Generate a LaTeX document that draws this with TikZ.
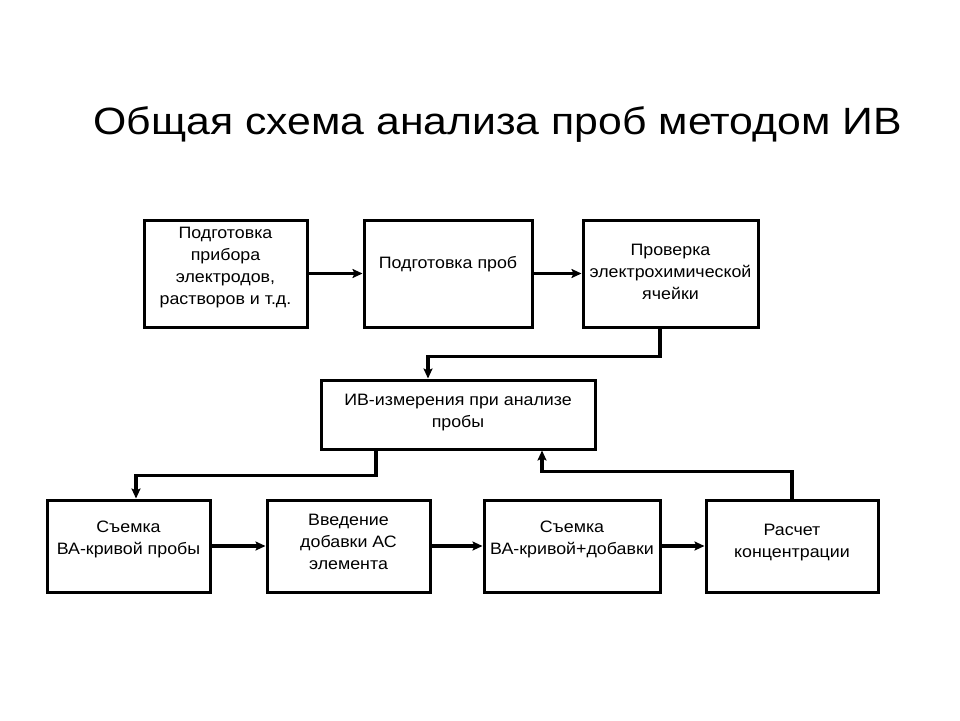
\documentclass[tikz,border=0pt]{standalone}
\usepackage{fontspec}
\usepackage{graphicx}
\setmainfont{Liberation Sans}
\usetikzlibrary{arrows.meta}
\newcommand{\bxt}[1]{\scalebox{1.08}[1]{\begin{tabular}{@{}c@{}}#1\end{tabular}}}
\begin{document}
\begin{tikzpicture}[x=1pt,y=-1pt,
  box/.style={draw=black,line width=3pt,fill=white,inner sep=0pt},
  txt/.style={font=\fontsize{16.5}{22}\selectfont,inner sep=0pt},
  arr/.style={line width=3.2pt,-{Stealth[length=10pt,width=9pt,inset=2pt]}},
  conn/.style={line width=3.2pt}]
\useasboundingbox (0,0) rectangle (960,720);
\fill[white] (0,0) rectangle (960,720);
% title
\node[anchor=base,inner sep=0pt,font=\fontsize{38}{44}\selectfont] (title) at (497.5,134) {\scalebox{1.125}[1]{Общая схема анализа проб методом ИВ}};
% top row
\node[box,minimum width=163pt,minimum height=107pt] (b1) at (225.5,273.5) {};
\node[box,minimum width=168pt,minimum height=107pt] (b2) at (448,273.5) {};
\node[box,minimum width=175pt,minimum height=107pt] (b3) at (670.5,273.5) {};
\node[txt] (t1) at (225.5,267) {\bxt{Подготовка\\прибора\\электродов,\\растворов и т.д.}};
\node[txt] (t2) at (448,264) {\bxt{Подготовка проб}};
\node[txt] (t3) at (670.5,273) {\bxt{Проверка\\электрохимической\\ячейки}};
% middle
\node[box,minimum width=274pt,minimum height=69pt] (mid) at (458,414.5) {};
\node[txt] (tm) at (458,412) {\bxt{ИВ-измерения при анализе\\пробы}};
% bottom row
\node[box,minimum width=163pt,minimum height=92pt] (ba) at (128.5,546) {};
\node[box,minimum width=163pt,minimum height=92pt] (bb) at (348.5,546) {};
\node[box,minimum width=176pt,minimum height=92pt] (bc) at (572,546) {};
\node[box,minimum width=172pt,minimum height=92pt] (bd) at (792,546) {};
\node[txt] (ta) at (128.5,539) {\bxt{Съемка\\ВА-кривой пробы}};
\node[txt] (tb) at (348.5,543) {\bxt{Введение\\добавки АС\\элемента}};
\node[txt] (tc) at (572,539) {\bxt{Съемка\\ВА-кривой+добавки}};
\node[txt] (td) at (792,542) {\bxt{Расчет\\концентрации}};
% connectors
\draw[arr] (b1) -- (b2);
\draw[arr] (b2) -- (b3);
\draw[arr] ([xshift=-10.5pt]b3.south) -- ++(0,28) -| ([xshift=-30pt]mid.north);
\draw[arr] ([xshift=-82pt]mid.south) -- ++(0,25) -| ([xshift=7.5pt]ba.north);
\draw[arr] (bd.north) -- ++(0,-27) -| ([xshift=84pt]mid.south);
\draw[arr] (ba) -- (bb);
\draw[arr] (bb) -- (bc);
\draw[arr] (bc) -- (bd);
\end{tikzpicture}
\end{document}
